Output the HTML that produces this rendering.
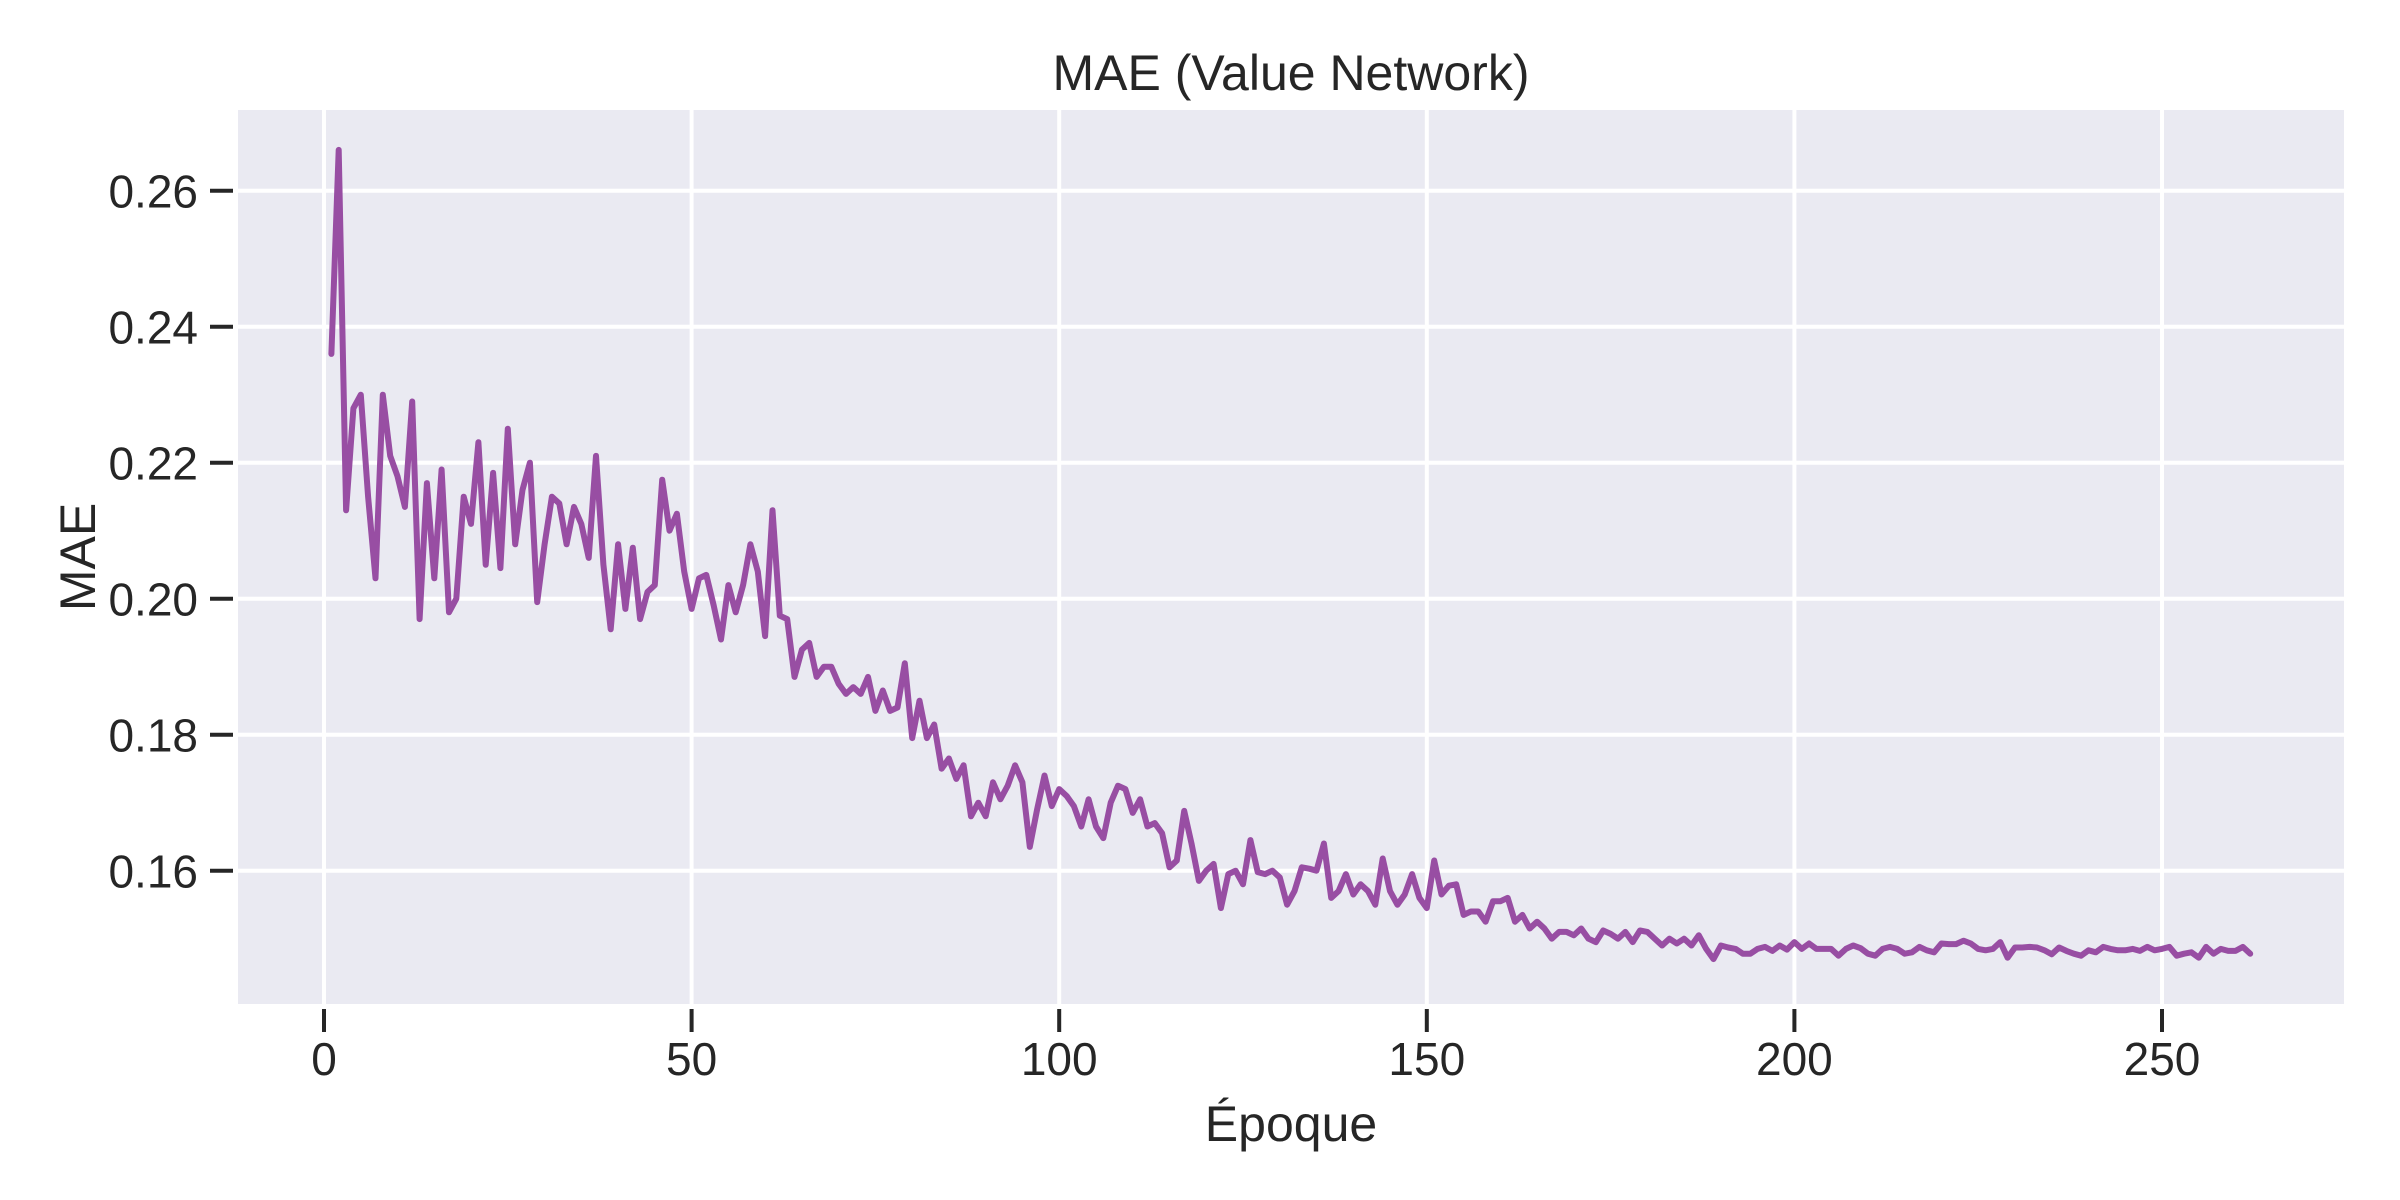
<!DOCTYPE html>
<html><head><meta charset="utf-8"><style>
html,body{margin:0;padding:0;background:#fff;}
svg{display:block;font-family:"Liberation Sans",Arial,sans-serif;}
</style></head><body>
<svg id="chart" width="2400" height="1200" viewBox="0 0 2400 1200" xmlns="http://www.w3.org/2000/svg">
<rect x="0" y="0" width="2400" height="1200" fill="#ffffff"/>
<rect x="238" y="110" width="2106" height="894" fill="#eaeaf2"/>
<g id="grid"></g>
<g id="ticks"></g>
<g id="series"></g>
<text x="1291" y="90" text-anchor="middle" font-size="50" fill="#262626">MAE (Value Network)</text>
<text x="1291" y="1141" text-anchor="middle" font-size="50" fill="#262626">Époque</text>
<text x="0" y="0" transform="translate(95,557) rotate(-90)" text-anchor="middle" font-size="50" fill="#262626">MAE</text>
</svg>
<script>
const epochs = Array.from({length:262},(_,i)=>i+1);
const maeValues = [0.236,0.266,0.213,0.228,0.230,0.215,0.203,0.230,0.221,0.218,0.2135,0.229,0.197,0.217,0.203,0.219,0.198,0.200,0.215,0.211,
0.223,0.205,0.2185,0.2045,0.225,0.208,0.216,0.220,0.1995,0.208,0.215,0.214,0.208,0.2135,0.211,0.206,0.221,0.205,0.1955,0.208,
0.1985,0.2075,0.197,0.201,0.202,0.2175,0.210,0.2125,0.204,0.1985,0.203,0.2035,0.199,0.194,0.202,0.198,0.202,0.208,0.204,0.1945,
0.213,0.1975,0.197,0.1885,0.1925,0.1935,0.1885,0.190,0.190,0.1875,0.186,0.187,0.186,0.1885,0.1835,0.1865,0.1835,0.184,0.1905,0.1795,
0.185,0.1795,0.1815,0.175,0.1765,0.1735,0.1755,0.168,0.170,0.168,0.173,0.1705,0.1725,0.1755,0.173,0.1635,0.169,0.174,0.1695,0.172,
0.171,0.1695,0.1665,0.1705,0.1665,0.1648,0.170,0.1725,0.172,0.1685,0.1705,0.1665,0.167,0.1655,0.1605,0.1615,0.1688,0.164,0.1585,0.160,
0.161,0.1545,0.1595,0.160,0.158,0.1645,0.1598,0.1595,0.160,0.159,0.155,0.157,0.1605,0.1603,0.160,0.164,0.156,0.157,0.1595,0.1565,
0.158,0.157,0.155,0.1618,0.157,0.155,0.1565,0.1595,0.156,0.1545,0.1615,0.1565,0.1578,0.158,0.1535,0.154,0.154,0.1525,0.1555,0.1555,
0.156,0.1525,0.1535,0.1515,0.1525,0.1515,0.150,0.151,0.151,0.1505,0.1515,0.150,0.1495,0.1512,0.1507,0.150,0.151,0.1495,0.1512,0.151,
0.150,0.149,0.150,0.1493,0.150,0.149,0.1505,0.1485,0.147,0.149,0.1487,0.1485,0.1478,0.1478,0.1485,0.1488,0.1482,0.149,0.1484,0.1495,
0.1485,0.1493,0.1485,0.1485,0.1485,0.1475,0.1485,0.149,0.1486,0.1478,0.1475,0.1485,0.1488,0.1485,0.1478,0.148,0.1488,0.1483,0.148,0.1493,
0.1492,0.1492,0.1497,0.1493,0.1485,0.1483,0.1485,0.1495,0.1472,0.1487,0.1487,0.1488,0.1487,0.1483,0.1477,0.1487,0.1482,0.1478,0.1475,0.1483,
0.148,0.1488,0.1485,0.1483,0.1483,0.1485,0.1482,0.1488,0.1483,0.1485,0.1488,0.1475,0.1478,0.148,0.1472,0.1488,0.1478,0.1485,0.1482,0.1482,
0.1488,0.1478];
const xTicks = [0,50,100,150,200,250];
const yTicks = [0.16,0.18,0.20,0.22,0.24,0.26];
const yTickLabels = ["0.16","0.18","0.20","0.22","0.24","0.26"];

const X0=238,X1=2344,Y0=110,Y1=1004;
function xScale(v){return 324+(v-0)*(2162-324)/250;}
function yScale(v){return 870.7+(0.16-v)*6800;}
const NS="http://www.w3.org/2000/svg";
const grid=document.getElementById('grid'),ticks=document.getElementById('ticks'),series=document.getElementById('series');
function mk(tag,attrs,parent){const e=document.createElementNS(NS,tag);for(const k in attrs)e.setAttribute(k,attrs[k]);parent.appendChild(e);return e;}
xTicks.forEach(t=>{
  const x=xScale(t);
  const g=mk('line',{x1:x,x2:x,y1:Y0,y2:Y1,stroke:'#fff','stroke-width':4},grid);
  
  
  const tk=mk('line',{x1:x,x2:x,y1:Y1+5,y2:Y1+28,stroke:'#262626','stroke-width':4},ticks);
  
  
  const tl=mk('text',{x:x,y:1075,'text-anchor':'middle','font-size':46,fill:'#262626'},ticks);
  tl.textContent=String(t);
  
  
});
yTicks.forEach((t,i)=>{
  const y=yScale(t);
  const g=mk('line',{x1:X0,x2:X1,y1:y,y2:y,stroke:'#fff','stroke-width':4},grid);
  
  
  const tk=mk('line',{x1:X0-5,x2:X0-28,y1:y,y2:y,stroke:'#262626','stroke-width':4},ticks);
  
  
  const tl=mk('text',{x:198,y:y+17,'text-anchor':'end','font-size':46,fill:'#262626'},ticks);
  tl.textContent=yTickLabels[i];
  
  
});
const pts=maeValues.map((v,i)=>xScale(epochs[i]).toFixed(1)+','+yScale(v).toFixed(1)).join(' ');
const line=mk('polyline',{points:pts,fill:'none',stroke:'#984ea3','stroke-width':6,'stroke-linejoin':'round','stroke-linecap':'round'},series);


</script>
</body></html>
